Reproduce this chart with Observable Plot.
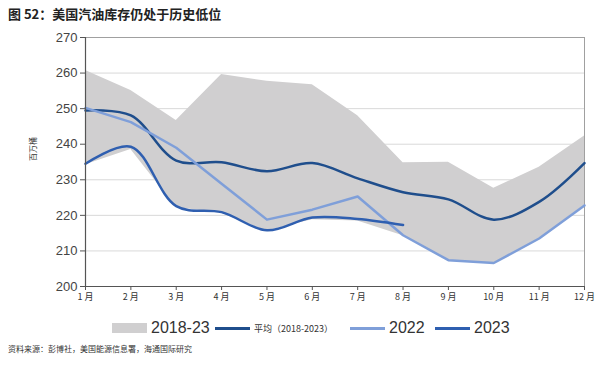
<!DOCTYPE html>
<html>
<head>
<meta charset="utf-8">
<script src="https://cdn.jsdelivr.net/npm/d3@7"></script>
<script src="https://cdn.jsdelivr.net/npm/@observablehq/plot@0.6"></script>
<style>
  body { margin: 0; background: #fff; font-family: "Noto Sans CJK SC", "Noto Sans", sans-serif; }
  #wrap { position: relative; width: 595px; height: 369px; overflow: hidden; }
  #title { position: absolute; left: 8px; top: 4px; font-size: 13px; font-weight: bold; color: #222; }
  #chart { position: absolute; left: 0; top: 30px; }
  #ylab { position: absolute; left: 13px; top: 144px; width: 40px; text-align: center; font-size: 8px; line-height: 10px; color: #333; transform: rotate(-90deg); }
  #legend { position: absolute; top: 318px; left: 0; width: 595px; height: 20px; }
  .li { position: absolute; top: 0; display: flex; align-items: center; height: 20px; }
  .big { font-family: "Liberation Sans", Arial, sans-serif; font-size: 16px; color: #333; }
  .small { font-size: 9px; color: #333; }
  #source { position: absolute; left: 8px; top: 343px; font-size: 8px; color: #333; }
</style>
</head>
<body>
<div id="wrap">
  <div id="title">图 52：美国汽油库存仍处于历史低位</div>
  <div id="chart"></div>
  <div id="ylab">百万桶</div>
  <div id="legend"></div>
  <div id="source">资料来源：彭博社，美国能源信息署，海通国际研究</div>
</div>
<script>
const months = [1,2,3,4,5,6,7,8,9,10,11,12];
const monthLabels = ["1 月","2 月","3 月","4 月","5 月","6 月","7 月","8 月","9 月","10 月","11 月","12 月"];
const bandUpper = [260.7, 255.1, 246.7, 259.6, 257.7, 256.7, 248.0, 234.8, 234.9, 227.6, 233.5, 242.3];
const bandLower = [234.2, 238.5, 222.2, 220.6, 215.6, 218.8, 218.4, 214.3, 207.3, 206.5, 213.4, 222.8];
const avg = [249.5, 248.1, 235.4, 234.9, 232.4, 234.7, 230.4, 226.5, 224.5, 218.8, 223.8, 234.7];
const y2022 = [250.2, 246.2, 239.0, 228.9, 218.8, 221.6, 225.3, 214.4, 207.4, 206.6, 213.5, 222.8];
const y2023 = [234.5, 239.3, 222.6, 220.9, 215.8, 219.4, 219.0, 217.3];
const yTicks = [200,210,220,230,240,250,260,270];

const band = months.map((m,i) => ({m, lo: bandLower[i], hi: bandUpper[i]}));
const avgData = months.map((m,i) => ({m, v: avg[i]}));
const d2022 = months.map((m,i) => ({m, v: y2022[i]}));
const d2023 = y2023.map((v,i) => ({m: months[i], v}));

const cBand = "#d0cfd0", cAvg = "#1f4e8c", c2022 = "#7f9fd9", c2023 = "#2f5fb0";

const plot = Plot.plot({
  width: 595,
  height: 280,
  marginLeft: 85,
  marginRight: 11,
  marginTop: 7,
  marginBottom: 24,
  x: {domain: [1,12], axis: null},
  y: {domain: [200,270], axis: null},
  marks: [
    Plot.ruleY(yTicks.filter(t => t > 200 && t < 270), {stroke: "#d9d9d9", strokeWidth: 1}),
    Plot.ruleY([270], {stroke: "#a0a0a0", strokeWidth: 1}),
    Plot.ruleX([12], {stroke: "#a0a0a0", strokeWidth: 1}),
    Plot.areaY(band, {x: "m", y1: "lo", y2: "hi", fill: cBand}),
    Plot.line(avgData, {x: "m", y: "v", stroke: cAvg, strokeWidth: 2.5, curve: "catmull-rom"}),
    Plot.line(d2022, {x: "m", y: "v", stroke: c2022, strokeWidth: 2.5}),
    Plot.line(d2023, {x: "m", y: "v", stroke: c2023, strokeWidth: 2.5, curve: "catmull-rom"}),
    Plot.ruleX([1], {stroke: "#555", strokeWidth: 1.2}),
    Plot.ruleY([200], {stroke: "#555", strokeWidth: 1.2}),
    Plot.axisY({ticks: yTicks, tickSize: 5, tickPadding: 3, fontSize: 13, stroke: "#555", color: "#444", label: null, fontFamily: "Liberation Sans, Arial, sans-serif"}),
    Plot.axisX({ticks: months, tickSize: 4, tickPadding: 3, fontSize: 9, stroke: "#555", color: "#333", label: null, tickFormat: d => monthLabels[d-1], fontFamily: "Noto Sans CJK SC, sans-serif"})
  ]
});
document.getElementById("chart").appendChild(plot);

const legendItems = [
  {label: "2018-23", type: "box", color: cBand, x: 112, cls: "big"},
  {label: "平均（2018-2023）", type: "line", color: cAvg, x: 215, cls: "small"},
  {label: "2022", type: "line", color: c2022, x: 350, cls: "big"},
  {label: "2023", type: "line", color: c2023, x: 435, cls: "big"}
];
const leg = document.getElementById("legend");
legendItems.forEach(it => {
  const d = document.createElement("div");
  d.className = "li";
  d.style.left = it.x + "px";
  const sw = document.createElement("span");
  sw.style.display = "inline-block";
  sw.style.width = "35px";
  sw.style.height = it.type === "box" ? "10px" : "3px";
  sw.style.background = it.color;
  sw.style.marginRight = "4px";
  const t = document.createElement("span");
  t.className = it.cls;
  t.textContent = it.label;
  d.appendChild(sw); d.appendChild(t);
  leg.appendChild(d);
});
</script>
</body>
</html>
